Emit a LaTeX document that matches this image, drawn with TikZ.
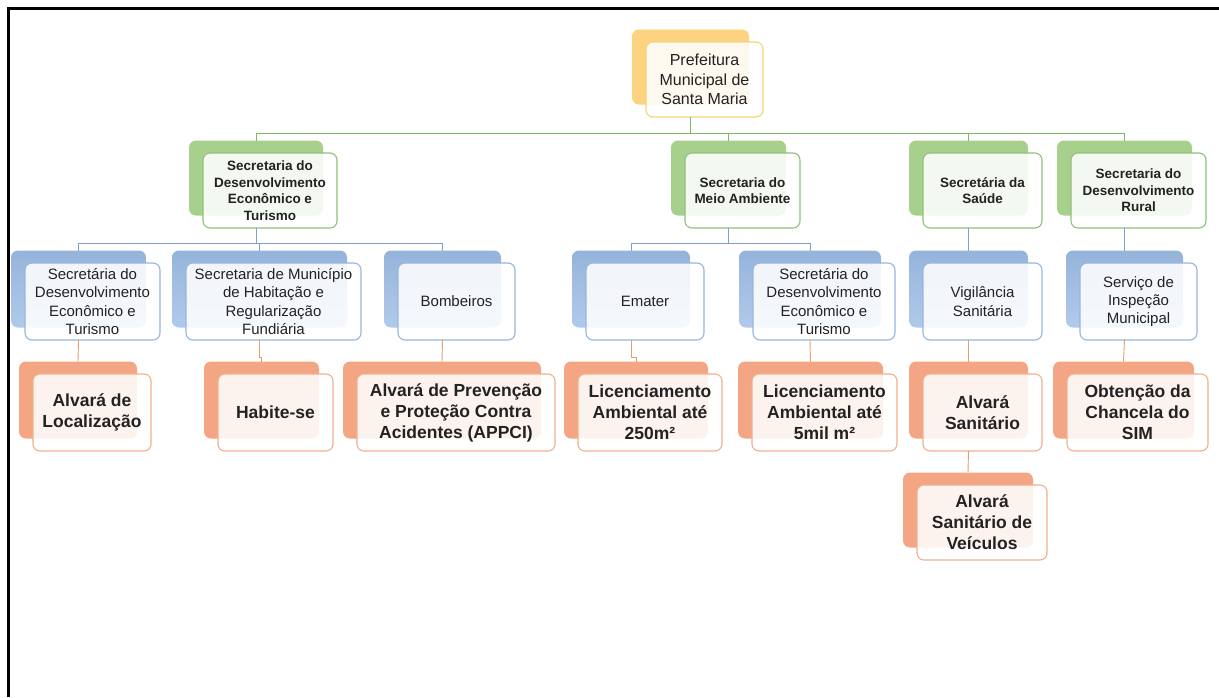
\documentclass[tikz,border=0pt]{standalone}
\usepackage{fontspec}
\setmainfont{Liberation Sans}
\definecolor{txt}{HTML}{222222}
\definecolor{yb}{HTML}{FDD281}
\definecolor{yd}{HTML}{F6D47C}
\definecolor{gb}{HTML}{A8D08D}
\definecolor{gd}{HTML}{8EC27A}
\definecolor{gl}{HTML}{82B66B}
\definecolor{bb}{HTML}{9DBDE6}
\definecolor{bd}{HTML}{97B6DD}
\definecolor{bl}{HTML}{7F9FCB}
\definecolor{ob}{HTML}{F4A583}
\definecolor{od}{HTML}{EFB28E}
\definecolor{ol}{HTML}{E49E72}
\newcommand{\fzero}{\fontsize{16}{19.5}\selectfont}
\newcommand{\fone}{\fontsize{13.5}{16.5}\selectfont\bfseries}
\newcommand{\ftwo}{\fontsize{15}{18.3}\selectfont}
\newcommand{\fthree}{\fontsize{17.5}{21}\selectfont\bfseries}
\tikzset{
  bx/.style={rectangle, rounded corners=7pt, inner sep=0pt, outer sep=0pt},
  frontbase/.style={bx, line width=1.1pt, fill=white, fill opacity=0.87, text opacity=1, align=center, text=txt},
  yback/.style={bx, fill=yb},
  yfront/.style={frontbase, draw=yd, font=\fzero},
  gback/.style={bx, fill=gb},
  gfront/.style={frontbase, draw=gd, font=\fone},
  bback/.style={bx, top color=bb!95!black, bottom color=bb!80!white},
  bfront/.style={frontbase, draw=bd, font=\ftwo},
  oback/.style={bx, fill=ob},
  ofront/.style={frontbase, draw=od, font=\fthree},
  gline/.style={draw=gl, line width=0.9pt},
  bline/.style={draw=bl, line width=0.9pt},
  oline/.style={draw=ol, line width=0.9pt},
}
% name, cx, cy, w, h, level, text  (back node is named <name>bk)
\newcommand{\unitbox}[7]{%
  \node[#6back, minimum width=#4pt, minimum height=#5pt] (#1bk) at ({#2-14},{#3-12.5}) {};
  \node[#6front, minimum width=#4pt, minimum height=#5pt] (#1) at (#2,#3) {#7};
}
\begin{document}
\begin{tikzpicture}[x=1pt,y=-1pt]
\useasboundingbox (0,0) rectangle (1219,697);
\fill[white] (0,0) rectangle (1219,697);
\draw[line width=3pt, line join=miter] (8,697) -- (8,8) -- (1219,8);

% level 0
\unitbox{pf}{704.5}{79.5}{117}{75}{y}{Prefeitura\\Municipal de\\Santa Maria}
% level 1
\unitbox{sde}{270}{190.5}{134}{75}{g}{Secretaria do\\Desenvolvimento\\Econ\^omico e\\Turismo}
\unitbox{sma}{742.5}{190.5}{115}{75}{g}{Secretaria do\\Meio Ambiente}
\unitbox{ss}{982.5}{190.5}{119}{75}{g}{Secret\'aria da\\Sa\'ude}
\unitbox{sr}{1138.5}{190.5}{135}{75}{g}{Secretaria do\\Desenvolvimento\\Rural}
% level 2
\unitbox{sdea}{92.5}{301.5}{135}{77}{b}{Secret\'aria do\\Desenvolvimento\\Econ\^omico e\\Turismo}
\unitbox{smh}{273.5}{301.5}{175}{77}{b}{Secretaria de Munic\'ipio\\de Habita\c{c}\~ao e\\Regulariza\c{c}\~ao\\Fundi\'aria}
\unitbox{bom}{456.5}{301.5}{117}{77}{b}{Bombeiros}
\unitbox{ema}{645}{301.5}{118}{77}{b}{Emater}
\unitbox{sdx}{824}{301.5}{142}{77}{b}{Secret\'aria do\\Desenvolvimento\\Econ\^omico e\\Turismo}
\unitbox{vig}{982.5}{301.5}{119}{77}{b}{Vigil\^ancia\\Sanit\'aria}
\unitbox{sim}{1138.5}{301.5}{117}{77}{b}{Servi\c{c}o de\\Inspe\c{c}\~ao\\Municipal}
% level 3
\unitbox{alv}{92}{412.5}{118}{77}{o}{Alvar\'a de\\Localiza\c{c}\~ao}
\unitbox{hab}{275.5}{412.5}{115}{77}{o}{Habite-se}
\unitbox{app}{456}{412.5}{198}{77}{o}{Alvar\'a de Preven\c{c}\~ao\\e Prote\c{c}\~ao Contra\\Acidentes (APPCI)}
\unitbox{lia}{650}{412.5}{144}{77}{o}{Licenciamento\\Ambiental at\'e\\250m²}
\unitbox{lib}{824.5}{412.5}{145}{77}{o}{Licenciamento\\Ambiental at\'e\\5mil m²}
\unitbox{asa}{982.5}{412.5}{119}{77}{o}{Alvar\'a\\Sanit\'ario}
\unitbox{obt}{1137.5}{412.5}{141}{77}{o}{Obten\c{c}\~ao da\\Chancela do\\SIM}
% level 4
\unitbox{vei}{982}{522.5}{130}{75}{o}{Alvar\'a\\Sanit\'ario de\\Ve\'iculos}

% buses
\coordinate (bus0) at (0,133);
\coordinate (bus1) at (0,243);

% green connectors
\draw[gline] (pfbk.center |- pf.south) -- (pfbk.center |- bus0);
\draw[gline] (sdebk.north) -- (sdebk.north |- bus0) -- (srbk.north |- bus0) -- (srbk.north);
\draw[gline] (smabk.north) -- (smabk.north |- bus0);
\draw[gline] (ssbk.north) -- (ssbk.north |- bus0);

% blue connectors
\draw[bline] (sdebk.center |- sde.south) -- (sdebk.center |- bus1);
\draw[bline] (sdeabk.north) -- (sdeabk.north |- bus1) -- (bombk.north |- bus1) -- (bombk.north);
\draw[bline] (smhbk.north) -- (smhbk.north |- bus1);
\draw[bline] (smabk.center |- sma.south) -- (smabk.center |- bus1);
\draw[bline] (emabk.north) -- (emabk.north |- bus1) -- (sdxbk.north |- bus1) -- (sdxbk.north);
\draw[bline] (ssbk.center |- ss.south) -- (vigbk.north);
\draw[bline] (srbk.center |- sr.south) -- (simbk.north);

% orange connectors
\draw[oline] (sdeabk.center |- sdea.south) -- (alvbk.north);
\draw[oline] (smhbk.center |- smh.south) -- ++(0,17) -| (habbk.north);
\draw[oline] (bombk.center |- bom.south) -- (appbk.north);
\draw[oline] (emabk.center |- ema.south) -- ++(0,17) -| (liabk.north);
\draw[oline] (sdxbk.center |- sdx.south) -- (libbk.north);
\draw[oline] (vigbk.center |- vig.south) -- (asabk.north);
\draw[oline] (simbk.center |- sim.south) -- (obtbk.north);
\draw[oline] (asabk.center |- asa.south) -- (veibk.north);
\end{tikzpicture}
\end{document}
